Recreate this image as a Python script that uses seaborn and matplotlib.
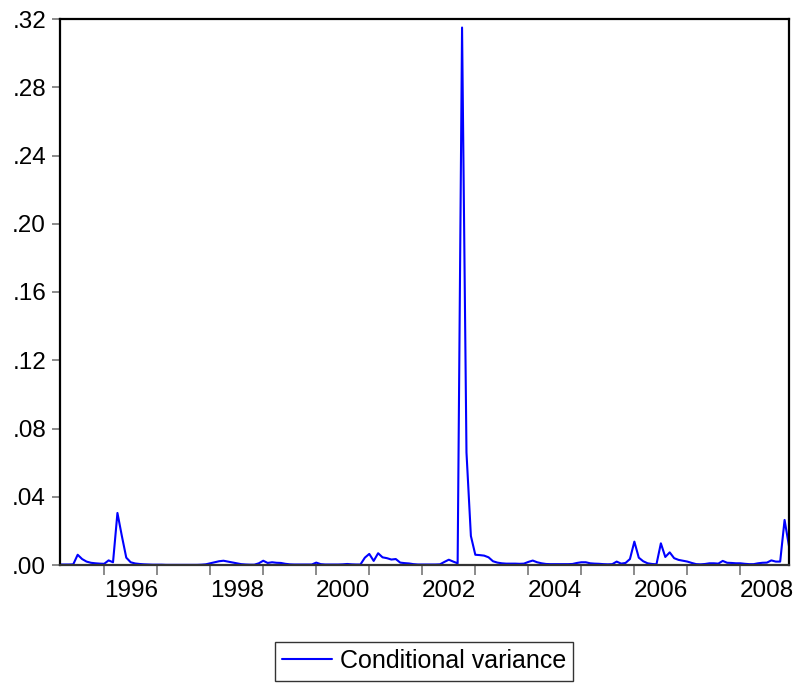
import numpy as np
import pandas as pd
import matplotlib
matplotlib.use("Agg")
import matplotlib.pyplot as plt
import seaborn as sns

# monthly conditional variance, 1995M03 - 2008M12
start = "1995-03"
variance = [
    0.0003, 0.0003, 0.0003, 0.0004, 0.0060, 0.0035, 0.0020, 0.0013, 0.0010, 0.0008,
    0.0007, 0.0027, 0.0016, 0.0305, 0.0170, 0.0043, 0.0016, 0.0009, 0.0006, 0.0004,
    0.0003, 0.0002, 0.0002, 0.0002, 0.0001, 0.0001, 0.0001, 0.0001, 0.0001, 0.0001,
    0.0001, 0.0001, 0.0002, 0.0004, 0.0010, 0.0016, 0.0022, 0.0025, 0.0020, 0.0015,
    0.0010, 0.0005, 0.0003, 0.0002, 0.0002, 0.0010, 0.0025, 0.0012, 0.0016, 0.0013,
    0.0012, 0.0007, 0.0004, 0.0003, 0.0003, 0.0003, 0.0003, 0.0003, 0.0014, 0.0005,
    0.0003, 0.0003, 0.0003, 0.0003, 0.0004, 0.0006, 0.0004, 0.0003, 0.0003, 0.0043,
    0.0065, 0.0024, 0.0069, 0.0045, 0.0040, 0.0032, 0.0035, 0.0014, 0.0011, 0.0009,
    0.0005, 0.0003, 0.0003, 0.0003, 0.0003, 0.0003, 0.0004, 0.0018, 0.0031, 0.0020,
    0.0010, 0.3150, 0.0660, 0.0170, 0.0060, 0.0058, 0.0055, 0.0045, 0.0022, 0.0014,
    0.0010, 0.0008, 0.0008, 0.0008, 0.0007, 0.0008, 0.0018, 0.0026, 0.0016, 0.0010,
    0.0006, 0.0005, 0.0005, 0.0005, 0.0005, 0.0005, 0.0006, 0.0012, 0.0016, 0.0016,
    0.0010, 0.0008, 0.0007, 0.0005, 0.0004, 0.0005, 0.0020, 0.0008, 0.0012, 0.0035,
    0.0137, 0.0043, 0.0022, 0.0010, 0.0006, 0.0004, 0.0127, 0.0047, 0.0074, 0.0040,
    0.0030, 0.0025, 0.0020, 0.0012, 0.0005, 0.0004, 0.0006, 0.0010, 0.0010, 0.0008,
    0.0024, 0.0013, 0.0012, 0.0010, 0.0010, 0.0007, 0.0005, 0.0005, 0.0010, 0.0013,
    0.0014, 0.0027, 0.0020, 0.0020, 0.0264, 0.0110,
]
year_ticks = list(range(1996, 2009))
year_labels = ["1996", "1998", "2000", "2002", "2004", "2006", "2008"]
y_ticks = [0.00, 0.04, 0.08, 0.12, 0.16, 0.20, 0.24, 0.28, 0.32]
y_labels = [".00", ".04", ".08", ".12", ".16", ".20", ".24", ".28", ".32"]

dates = pd.date_range(start, periods=len(variance), freq="MS")
df = pd.DataFrame({"t": dates.year + (dates.month - 1) / 12, "v": variance})

sns.set_style("white")
plt.rcParams["font.family"] = ["Liberation Sans", "DejaVu Sans"]
plt.rcParams["text.color"] = "black"

fig = plt.figure(figsize=(7.95, 6.84), dpi=100)
ax = fig.add_axes([60 / 795, 1 - 565 / 684, 729 / 795, 546 / 684])
sns.lineplot(data=df, x="t", y="v", ax=ax, color="#0000FF", linewidth=1.5,
             label="Conditional variance", legend=False)

ax.set_xlim(df["t"].iloc[0], df["t"].iloc[-1])
ax.set_ylim(0, 0.32)
ax.set_xlabel("")
ax.set_ylabel("")

# year ticks at year boundaries, labels centred inside every other year
ax.set_xticks(year_ticks)
ax.set_xticklabels([])
ax.set_xticks([int(y) + 0.5 for y in year_labels], minor=True)
ax.set_xticklabels(year_labels, minor=True)
ax.tick_params(axis="x", which="major", direction="out", length=7.5, width=1.2,
               color="#777777", bottom=True)
ax.tick_params(axis="x", which="minor", length=0, pad=10.5, labelsize=17.5,
               labelcolor="black")

ax.set_yticks(y_ticks)
ax.set_yticklabels(y_labels)
ax.tick_params(axis="y", direction="out", length=6, width=1.2, color="#777777",
               left=True, pad=4, labelsize=17.5, labelcolor="black")

for side in ["left", "top", "right"]:
    ax.spines[side].set_color("black")
    ax.spines[side].set_linewidth(1.6)
ax.spines["bottom"].set_color("#333333")
ax.spines["bottom"].set_linewidth(1.6)

handles, labels = ax.get_legend_handles_labels()
leg = fig.legend(handles, labels, loc="center", bbox_to_anchor=(424 / 795, 1 - 661 / 684),
                 fontsize=18, frameon=True, fancybox=False, handlelength=2.0,
                 borderpad=0.3, handletextpad=0.3, borderaxespad=0, labelcolor="black")
leg.get_frame().set_edgecolor("black")
leg.get_frame().set_linewidth(1.0)

fig.savefig("out.png", dpi=100)
